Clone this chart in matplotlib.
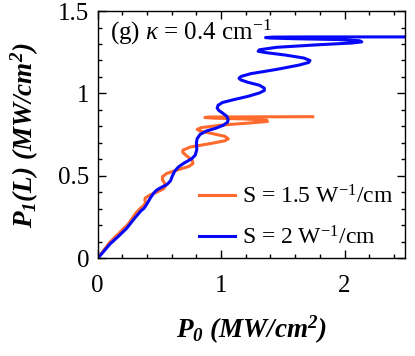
import matplotlib
matplotlib.use("Agg")
import matplotlib.pyplot as plt
from matplotlib.ticker import MultipleLocator, FormatStrFormatter

FONT = "Liberation Serif"
plt.rcParams["font.family"] = [FONT, "DejaVu Serif"]
plt.rcParams["mathtext.fontset"] = "custom"
plt.rcParams["mathtext.rm"] = FONT
plt.rcParams["mathtext.it"] = FONT + ":italic"
plt.rcParams["mathtext.bf"] = FONT + ":bold"
plt.rcParams["mathtext.bfit"] = FONT + ":italic:bold"

# S = 2 W^-1/cm  (P0, P1)
p0_s2 = [0.0, 0.05, 0.10, 0.17, 0.235, 0.29, 0.33, 0.35, 0.375, 0.395,
         0.43, 0.455, 0.48, 0.51, 0.56, 0.59, 0.605, 0.625, 0.655, 0.70,
         0.76, 0.79, 0.803, 0.800, 0.805, 0.83, 0.88, 0.96, 1.02, 1.052,
         1.057, 1.045, 1.01, 0.98, 0.968, 0.975, 1.01, 1.10, 1.22, 1.31,
         1.35, 1.35, 1.31, 1.22, 1.16, 1.145, 1.16, 1.24, 1.45, 1.63,
         1.71, 1.72, 1.67, 1.52, 1.36, 1.30, 1.31, 1.45, 1.80, 2.06,
         2.14, 2.12, 1.95, 1.60, 1.40, 1.36, 1.42, 1.70, 2.60]
p1_s2 = [0.0, 0.043, 0.087, 0.135, 0.182, 0.235, 0.27, 0.288, 0.303, 0.325,
         0.37, 0.397, 0.415, 0.428, 0.447, 0.47, 0.50, 0.53, 0.555, 0.578,
         0.603, 0.625, 0.66, 0.70, 0.725, 0.752, 0.772, 0.790, 0.808, 0.826,
         0.842, 0.862, 0.882, 0.898, 0.912, 0.928, 0.945, 0.962, 0.983, 1.003,
         1.018, 1.032, 1.050, 1.067, 1.082, 1.092, 1.103, 1.120, 1.146, 1.172,
         1.188, 1.200, 1.215, 1.233, 1.248, 1.256, 1.265, 1.280, 1.296, 1.306,
         1.313, 1.320, 1.327, 1.332, 1.336, 1.339, 1.342, 1.343, 1.343]

# S = 1.5 W^-1/cm
p0_s15 = [0.0, 0.05, 0.10, 0.15, 0.197, 0.235, 0.262, 0.285, 0.31, 0.345,
          0.375, 0.388, 0.382, 0.385, 0.42, 0.48, 0.53, 0.548, 0.540, 0.524,
          0.525, 0.56, 0.65, 0.74, 0.772, 0.765, 0.72, 0.69, 0.69, 0.75,
          0.92, 1.03, 1.058, 1.03, 0.92, 0.83, 0.806, 0.84, 1.00, 1.25,
          1.375, 1.37, 1.20, 0.95, 0.868, 0.90, 1.20, 1.742]
p1_s15 = [0.0, 0.05, 0.099, 0.135, 0.171, 0.197, 0.222, 0.248, 0.275, 0.303,
          0.322, 0.338, 0.352, 0.365, 0.383, 0.402, 0.420, 0.437, 0.458, 0.478,
          0.495, 0.515, 0.537, 0.558, 0.575, 0.595, 0.622, 0.642, 0.656, 0.675,
          0.697, 0.713, 0.725, 0.740, 0.758, 0.772, 0.782, 0.793, 0.808, 0.822,
          0.830, 0.838, 0.845, 0.850, 0.854, 0.857, 0.858, 0.859]

fig = plt.figure(figsize=(4.15, 3.56), dpi=100)
ax = fig.add_axes([0.2354, 0.2744, 0.7406, 0.6946])

ax.plot(p0_s15, p1_s15, color="#ff6a2e", lw=2.2, solid_joinstyle="round",
        label=r"S = 1.5 W$^{\mathregular{-1}}$/cm")
ax.plot(p0_s2, p1_s2, color="#0808f8", lw=2.2, solid_joinstyle="round",
        label=r"S = 2 W$^{\mathregular{-1}}$/cm")

ax.set_xlim(0, 2.49)
ax.set_ylim(0, 1.5)
ax.xaxis.set_major_locator(MultipleLocator(1))
ax.xaxis.set_minor_locator(MultipleLocator(0.2))
ax.yaxis.set_major_locator(MultipleLocator(0.5))
ax.yaxis.set_minor_locator(MultipleLocator(0.1))
ax.xaxis.set_major_formatter(FormatStrFormatter("%g"))
ax.yaxis.set_major_formatter(FormatStrFormatter("%g"))
ax.tick_params(which="both", direction="in", top=True, right=True, labelsize=18)
ax.tick_params(axis="x", pad=12)
ax.tick_params(axis="y", pad=6)
ax.tick_params(which="major", length=6, width=1)
ax.tick_params(which="minor", length=3, width=1)
for s in ax.spines.values():
    s.set_linewidth(1)

ax.set_xlabel(r"$\mathbfit{P_0\ (MW/cm^2)}$", fontsize=19.5, labelpad=12)
ax.set_ylabel(r"$\mathbfit{P_1(L)\ (MW/cm^2)}$", fontsize=19.5, labelpad=12)

ax.text(0.04, 0.915, r"(g) $\kappa$ = 0.4 cm$^{\mathregular{-1}}$", transform=ax.transAxes,
        fontsize=18, va="center", ha="left")

ax.legend(loc="lower right", bbox_to_anchor=(1.03, -0.05), frameon=False, fontsize=17,
          handlelength=1.5, handletextpad=0.3, labelspacing=0.75)

fig.savefig("out.png", dpi=100)
